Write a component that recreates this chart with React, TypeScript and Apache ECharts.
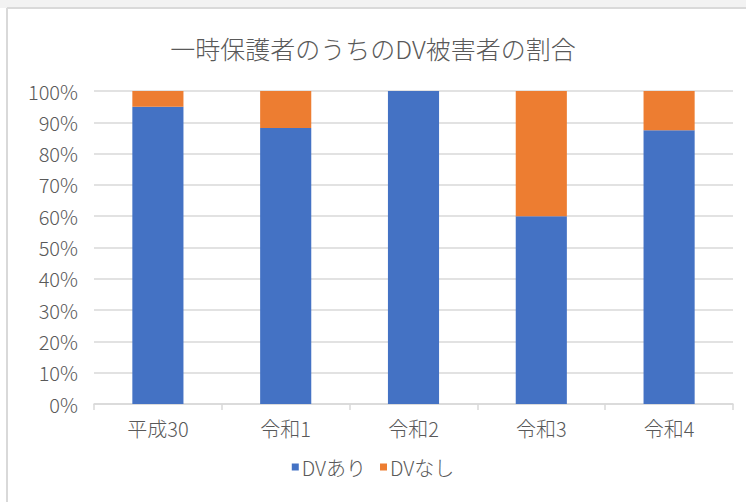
import React, { useEffect, useRef } from "react";
import * as echarts from "echarts";

const categories = ["平成30", "令和1", "令和2", "令和3", "令和4"];
const dvAri = [95, 88.2, 100, 60, 87.5];
const dvNashi = [5, 11.8, 0, 40, 12.5];
const titleText = "一時保護者のうちのDV被害者の割合";
const seriesNames = ["DVあり", "DVなし"];

const FONT = "'Noto Sans CJK JP', 'Noto Sans', sans-serif";

export default function App() {
  const ref = useRef<HTMLDivElement>(null);
  useEffect(() => {
    document.body.style.margin = "0";
    const chart = echarts.init(ref.current!, null, { renderer: "svg" });
    chart.setOption({
      animation: false,
      backgroundColor: "#ffffff",
      textStyle: { fontFamily: FONT },
      title: {
        text: titleText,
        left: "center",
        top: 30,
        textStyle: { fontFamily: FONT, fontSize: 25, fontWeight: 300, color: "#595959" },
      },
      graphic: [
        { type: "rect", shape: { x: 0, y: 0, width: 746, height: 8 }, style: { fill: "#f2f2f2" }, silent: true },
        { type: "line", shape: { x1: 7, y1: 8, x2: 746, y2: 8 }, style: { stroke: "#d9d9d9", lineWidth: 2 }, silent: true },
        { type: "line", shape: { x1: 7, y1: 8, x2: 7, y2: 502 }, style: { stroke: "#d9d9d9", lineWidth: 2 }, silent: true },
      ],
      legend: {
        data: seriesNames,
        bottom: 20,
        left: "center",
        itemWidth: 7,
        itemHeight: 7,
        itemGap: 14,
        icon: "rect",
        textStyle: { fontFamily: FONT, fontSize: 20, fontWeight: 300, color: "#595959", padding: [0, 0, 0, -2] },
      },
      grid: { left: 94, right: 13, top: 91, bottom: 98 },
      xAxis: {
        type: "category",
        data: categories,
        axisLine: { lineStyle: { color: "#d9d9d9", width: 1.5 } },
        axisTick: { show: true, length: 6, lineStyle: { color: "#d9d9d9", width: 1.5 } },
        axisLabel: { fontFamily: FONT, fontSize: 20, fontWeight: 300, color: "#595959", margin: 14 },
      },
      yAxis: {
        type: "value",
        min: 0,
        max: 100,
        interval: 10,
        axisLine: { show: false },
        axisTick: { show: false },
        splitLine: { lineStyle: { color: "#d9d9d9", width: 1.5 } },
        axisLabel: { fontFamily: FONT, fontSize: 20, fontWeight: 300, color: "#595959", margin: 16, formatter: "{value}%" },
      },
      series: [
        {
          name: seriesNames[0],
          type: "bar",
          stack: "total",
          data: dvAri,
          barWidth: "40%",
          itemStyle: { color: "#4472c4" },
        },
        {
          name: seriesNames[1],
          type: "bar",
          stack: "total",
          data: dvNashi,
          barWidth: "40%",
          itemStyle: { color: "#ed7d31" },
        },
      ],
    });
    return () => chart.dispose();
  }, []);
  return <div ref={ref} style={{ position: "absolute", left: 0, top: 0, width: 746, height: 502 }} />;
}
